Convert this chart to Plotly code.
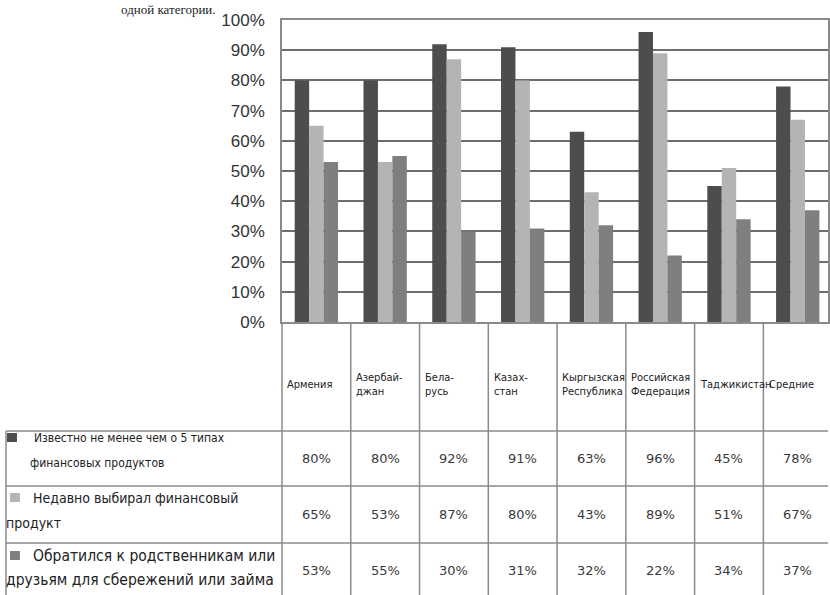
import plotly.graph_objects as go

# ---------------- data ----------------
categories = ["Армения", "Азербайджан", "Беларусь", "Казахстан",
              "Кыргызская Республика", "Российская Федерация", "Таджикистан", "Средние"]
category_labels = ["Армения", "Азербай-<br>джан", "Бела-<br>русь", "Казах-<br>стан",
                   "Кыргызская<br>Республика", "Российская<br>Федерация", "Таджикистан", "Средние"]
series_names = ["Известно не менее чем о 5 типах финансовых продуктов",
                "Недавно выбирал финансовый продукт",
                "Обратился к родственникам или друзьям для сбережений или займа"]
series_row_lines = [["Известно не менее чем о 5 типах", "финансовых продуктов"],
                    ["Недавно выбирал финансовый", "продукт"],
                    ["Обратился к родственникам или", "друзьям для сбережений или займа"]]
known5 = [80, 80, 92, 91, 63, 96, 45, 78]
recent_choice = [65, 53, 87, 80, 43, 89, 51, 67]
relatives = [53, 55, 30, 31, 32, 22, 34, 37]
series_values = [known5, recent_choice, relatives]
tick_vals = [0, 10, 20, 30, 40, 50, 60, 70, 80, 90, 100]
tick_text = [f"{v}%" for v in tick_vals]
colors = ["#4d4d4d", "#b4b4b4", "#7f7f7f"]

W, H = 830, 595
L, R, T, B = 282, 0, 20, 273
XMIN, XMAX = -0.5, 7.44
NARROW = "DejaVu Sans Condensed, Liberation Sans Narrow, Arial Narrow, DejaVu Sans"

def px_x(x):
    return (x - L) / (W - L - R)

def px_y(y):
    return (H - B - y) / (H - T - B)

def data_to_paper_x(v):
    return (v - XMIN) / (XMAX - XMIN)

fig = go.Figure()
x_idx = list(range(len(categories)))
for name, vals, col in zip(series_names, series_values, colors):
    fig.add_trace(go.Bar(x=x_idx, y=vals, name=name, marker=dict(color=col, line=dict(width=0)),
                         showlegend=False))

shapes = []
line_col = "#8a8a8a"
# vertical column lines of the table (at category boundaries)
for k in range(len(categories)):
    xp = data_to_paper_x(k - 0.5)
    shapes.append(dict(type="line", xref="paper", yref="paper", x0=xp, x1=xp,
                       y0=0, y1=px_y(600), line=dict(color=line_col, width=1.5)))
# left border of the row-header column
shapes.append(dict(type="line", xref="paper", yref="paper", x0=px_x(5), x1=px_x(5),
                   y0=px_y(431), y1=px_y(600), line=dict(color=line_col, width=1.5)))
# horizontal row lines
for yy in [431, 486, 543]:
    shapes.append(dict(type="line", xref="paper", yref="paper", x0=px_x(5), x1=1.0,
                       y0=px_y(yy), y1=px_y(yy), line=dict(color=line_col, width=1.5)))

annotations = []
# category labels (header row)
for i, lab in enumerate(category_labels):
    annotations.append(dict(x=data_to_paper_x(i - 0.5) + 0.006, xref="paper", y=px_y(384), yref="paper",
                            text=lab, showarrow=False, xanchor="left", yanchor="middle", align="left",
                            font=dict(family=NARROW, size=11, color="#222")))
# row values
row_centers = [458, 514, 570]
for r, vals in enumerate(series_values):
    for i, v in enumerate(vals):
        annotations.append(dict(x=i, xref="x", y=px_y(row_centers[r]), yref="paper",
                                text=f"{v}%", showarrow=False, xanchor="center", yanchor="middle",
                                font=dict(family="DejaVu Sans", size=13, color="#3a3a3a")))
# row headers with swatches
line1_y = [438, 498, 556]
line2_y = [463, 523, 580]
line1_x = [31, 30, 30]
line2_x = [27, 3, 3]
row_font = [12, 14, 15.5]
swatch_x = [6, 9, 9]
for r, (l1, l2) in enumerate(series_row_lines):
    shapes.append(dict(type="rect", xref="paper", yref="paper",
                       x0=px_x(swatch_x[r]), x1=px_x(swatch_x[r] + 10),
                       y0=px_y(line1_y[r] + 4), y1=px_y(line1_y[r] - 5),
                       fillcolor=colors[r], line=dict(width=0)))
    annotations.append(dict(x=px_x(line1_x[r]), xref="paper", y=px_y(line1_y[r]), yref="paper",
                            text=l1, showarrow=False, xanchor="left", yanchor="middle", align="left",
                            font=dict(family=NARROW, size=row_font[r], color="#222")))
    annotations.append(dict(x=px_x(line2_x[r]), xref="paper", y=px_y(line2_y[r]), yref="paper",
                            text=l2, showarrow=False, xanchor="left", yanchor="middle", align="left",
                            font=dict(family=NARROW, size=row_font[r], color="#222")))
# text from the page above the chart
annotations.append(dict(x=px_x(168), xref="paper", y=px_y(0), yref="paper",
                        text="одной категории.", showarrow=False, xanchor="center", yanchor="top",
                        font=dict(family="Liberation Serif, DejaVu Serif", size=13, color="#222")))

fig.update_layout(
    width=W, height=H,
    margin=dict(l=L, r=R, t=T, b=B),
    paper_bgcolor="white", plot_bgcolor="white",
    barmode="group", bargap=0.37, bargroupgap=0.0,
    xaxis=dict(range=[XMIN, XMAX], showticklabels=False, showgrid=False, zeroline=False,
               showline=True, linecolor=line_col, linewidth=1.5, mirror=True, ticks=""),
    yaxis=dict(range=[0, 100], tickvals=tick_vals, ticktext=tick_text, showgrid=True,
               gridcolor="#6e6e6e", gridwidth=1.5, zeroline=False,
               showline=True, linecolor=line_col, linewidth=1.5, mirror=True,
               ticklabelstandoff=12,
               tickfont=dict(family="Liberation Sans, Arial", size=17, color="#333")),
    shapes=shapes, annotations=annotations,
)

fig.write_html("out.html")
